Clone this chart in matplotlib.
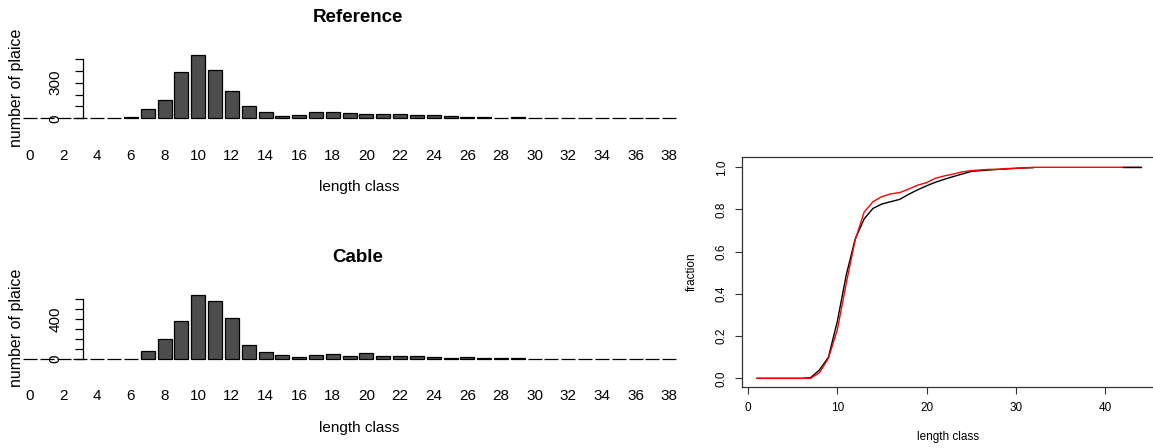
import numpy as np
import matplotlib
matplotlib.use("Agg")
import matplotlib.pyplot as plt

plt.rcParams['font.family'] = ['Liberation Sans', 'DejaVu Sans']

# length classes shown in the bar charts
classes = np.arange(0, 39)

# catch per length class, reference area
reference_counts = [0, 0, 0, 0, 0, 0, 14, 79, 155, 390, 534, 407, 230, 101, 51,
                    22, 25, 53, 53, 48, 36, 36, 34, 31, 31, 20, 8, 8, 6, 8,
                    0, 5, 0, 0, 0, 0, 0, 0, 0]
# catch per length class, cable area
cable_counts = [0, 0, 0, 0, 0, 0, 0, 84, 202, 380, 636, 576, 414, 141, 71,
                40, 24, 40, 47, 34, 61, 34, 34, 30, 24, 13, 17, 10, 10, 10,
                0, 0, 0, 0, 0, 0, 0, 0, 0]

# cumulative fraction per length class (index 1..44)
cdf_classes = np.arange(1, 45)
nan = np.nan
cdf_reference = [0, 0, 0, 0, 0, 0, 0.003, 0.04, 0.10, 0.27, 0.49, 0.66, 0.755,
                 0.805, 0.826, 0.837, 0.848, 0.872, 0.893, 0.912, 0.929, 0.943,
                 0.956, 0.968, 0.980, 0.984, 0.987, 0.990, 0.992, 0.995, 0.997,
                 0.998, nan, nan, nan, nan, nan, nan, nan, nan, nan, 1.0, 1.0, 1.0]
cdf_cable = [0, 0, 0, 0, 0, 0, 0, 0.027, 0.095, 0.23, 0.45, 0.655, 0.787,
             0.837, 0.861, 0.874, 0.880, 0.897, 0.915, 0.927, 0.948, 0.959,
             0.968, 0.978, 0.984, 0.987, 0.990, 0.990, 0.994, 0.995, 0.997,
             1.0, 1.0, 1.0, 1.0, 1.0, 1.0, 1.0, 1.0, 1.0, 1.0, 1.0, 1.0, 1.0]

W, H = 1153, 448
fig = plt.figure(figsize=(W / 100, H / 100), dpi=100)


def px_axes(left, top, right, bottom):
    return fig.add_axes([left / W, 1 - bottom / H, (right - left) / W, (bottom - top) / H])


def px_text(x, y, s, **kw):
    fig.text(x / W, 1 - y / H, s, ha='center', va='center', **kw)


def histogram(top, counts, ymax_tick, shown, title, ylim):
    ax = px_axes(20, top, 680, top + 75)
    ax.bar(classes, counts, width=1 / 1.2, color='#4d4d4d', edgecolor='black',
           linewidth=0.9, clip_on=False)
    for s in ['top', 'right', 'bottom']:
        ax.spines[s].set_visible(False)
    ax.spines['left'].set_position(('data', 3.151))
    ax.spines['left'].set_bounds(0, ymax_tick)
    ax.spines['left'].set_linewidth(0.9)
    yt = np.arange(0, ymax_tick + 1, 100)
    ax.set_yticks(yt)
    ax.set_yticklabels([str(v) if v in shown else '' for v in yt],
                       rotation=90, va='center', fontsize=11)
    ax.tick_params(axis='y', length=6, width=0.9, pad=9)
    ax.set_xticks(classes[::2])
    ax.set_xticklabels([str(c) for c in classes[::2]], fontsize=11)
    ax.tick_params(axis='x', length=0, pad=17)
    ax.set_xlim(-0.595, 38.64)
    ax.set_ylim(*ylim)
    px_text(358, top - 33, title, fontsize=13.5, fontweight='bold')
    px_text(17, top + 37.5, 'number of plaice', rotation=90, fontsize=11.5)
    px_text(359, top + 137, 'length class', fontsize=11)
    return ax


histogram(50, reference_counts, 500, (0, 300), 'Reference', (-56.5, 575.9))
histogram(290.7, cable_counts, 600, (0, 400), 'Cable', (-67, 683))

# cumulative length distributions
ax = px_axes(741.7, 156.7, 1156, 387)
cdf_reference = np.array(cdf_reference)
cdf_cable = np.array(cdf_cable)
head = cdf_classes <= 32
tail = cdf_classes >= 42
ax.plot(cdf_classes[head], cdf_reference[head], color='black', lw=1, zorder=2)
ax.plot(cdf_classes, cdf_cable, color='red', lw=1, zorder=3)
ax.plot(cdf_classes[tail], cdf_reference[tail], color='black', lw=1, zorder=4)
ax.set_xticks([0, 10, 20, 30, 40])
ax.set_yticks([0, 0.2, 0.4, 0.6, 0.8, 1.0])
ax.set_yticklabels(['0.0', '0.2', '0.4', '0.6', '0.8', '1.0'], rotation=90, va='center')
ax.set_xlim(-0.72, 45.72)
ax.set_ylim(-0.041, 1.050)
ax.tick_params(labelsize=8.5, length=5, width=0.8, color='#333333')
ax.tick_params(axis='x', pad=6)
ax.tick_params(axis='y', pad=5)
for s in ax.spines.values():
    s.set_color('#333333')
    s.set_linewidth(0.9)
px_text(692, 272, 'fraction', rotation=90, fontsize=8.5)
px_text(948, 437, 'length class', fontsize=8.5)

fig.savefig('out.png', dpi=100)
